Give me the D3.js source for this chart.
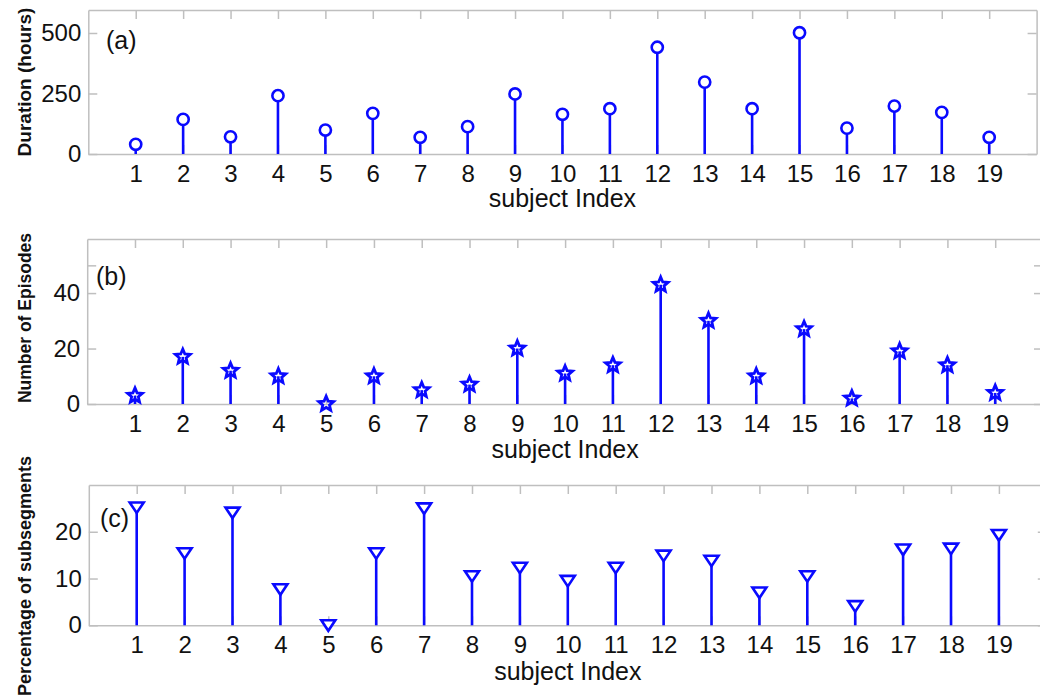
<!DOCTYPE html>
<html>
<head>
<meta charset="utf-8">
<script src="https://cdn.jsdelivr.net/npm/d3@7"></script>
<style>
  body { margin: 0; background: #fff; }
  svg { display: block; font-family: "Liberation Sans", Arial, sans-serif; }
  .axis .domain, .axis .tick line { stroke: #bfbfbf; stroke-width: 1.5; }
  .axis text { fill: #111; font-size: 24px; font-family: "Liberation Sans", Arial, sans-serif; }
</style>
</head>
<body>
<svg id="drawing_region"></svg>
<script>
const subjects = [1, 2, 3, 4, 5, 6, 7, 8, 9, 10, 11, 12, 13, 14, 15, 16, 17, 18, 19];

const durationHours = [40, 143, 71, 241, 99, 168, 69, 113, 248, 164, 187, 441, 297, 187, 501, 107, 198, 172, 69];
const episodeCounts = [3, 17, 12, 10, 0, 10, 5, 7, 20, 11, 14, 43, 30, 10, 27, 2, 19, 14, 4];
const subsegmentPct = [25.2, 15.4, 24.1, 7.7, 0, 15.4, 25.0, 10.5, 12.3, 9.5, 12.3, 14.9, 13.8, 7.0, 10.5, 4.1, 16.2, 16.4, 19.3];

const durationTicks = [0, 250, 500];
const durationTickLabels = ['0', '250', '500'];
const episodeTicks = [0, 20, 40, 50];
const episodeTickLabels = ['0', '20', '40', ''];
const percentTicks = [0, 10, 20];
const percentTickLabels = ['0', '10', '20'];

const svg = d3.select('#drawing_region')
    .attr('width', 1040)
    .attr('height', 700);

class StemPlot {

    constructor( config, xs, ys ) {
        this.config = config;
        this.xs = xs;
        this.ys = ys;
        this.init();
    }

    init() {
        let self = this;
        const c = self.config;

        self.chart = svg.append('g');

        self.x_scale = d3.scaleLinear()
            .domain( [0, 20] )
            .range( [c.left, c.right] );

        self.y_scale = d3.scaleLinear()
            .domain( [0, c.ymax] )
            .range( [c.bottom, c.top] );
    }

    render() {
        let self = this;
        const c = self.config;
        const x = self.x_scale, y = self.y_scale;

        self.chart.append('g').attr('class', 'axis')
            .attr('transform', `translate(0, ${c.top})`)
            .call( d3.axisTop(x).tickValues(subjects).tickSize(-9).tickSizeOuter(0).tickFormat('') );

        self.chart.append('g').attr('class', 'axis')
            .attr('transform', `translate(${c.right}, 0)`)
            .call( d3.axisRight(y).tickValues(c.ticks).tickSize(-9).tickSizeOuter(0).tickFormat('') );

        self.chart.append('g').attr('class', 'axis')
            .attr('transform', `translate(${c.left}, 0)`)
            .call( d3.axisLeft(y).tickValues(c.ticks).tickSize(-9).tickSizeOuter(0).tickPadding(7)
                .tickFormat( (d, i) => c.tickLabels[i] ) );

        self.chart.append('g').attr('class', 'axis')
            .attr('transform', `translate(0, ${c.bottom})`)
            .call( d3.axisBottom(x).tickValues(subjects).tickSize(-9).tickSizeOuter(0).tickPadding(11) );

        const pts = self.xs.map( (s, i) => ({ s: s, v: self.ys[i] }) );

        self.chart.selectAll('line.stem')
            .data(pts)
            .enter()
            .append('line')
            .attr('class', 'stem')
            .attr('x1', d => x(d.s) )
            .attr('x2', d => x(d.s) )
            .attr('y1', y(0) )
            .attr('y2', d => y(d.v) )
            .attr('stroke', '#0a0aff')
            .attr('stroke-width', 2.6);

        const marks = self.chart.selectAll('path.mark')
            .data(pts)
            .enter()
            .append('path')
            .attr('class', 'mark')
            .attr('transform', d => `translate(${x(d.s)}, ${y(d.v)})`)
            .attr('stroke', '#0a0aff');

        if ( c.marker === 'circle' ) {
            marks.attr('d', d3.arc()({innerRadius: 0, outerRadius: 5.6, startAngle: 0, endAngle: 2 * Math.PI}))
                .attr('fill', '#fff').attr('stroke-width', 2.6);
        } else if ( c.marker === 'star' ) {
            marks.attr('d', starPath(7.8, 0.45)).attr('fill', 'none').attr('stroke-width', 2.8);
        } else {
            marks.attr('d', 'M-7,-5L7,-5L0,5.5Z').attr('fill', '#fff').attr('stroke-width', 2.6);
        }

        self.chart.append('text')
            .attr('x', c.panelLabelX)
            .attr('y', c.panelLabelY)
            .attr('font-size', 25)
            .attr('fill', '#111')
            .text(c.panelLabel);

        self.chart.append('text')
            .attr('x', (c.left + c.right) / 2)
            .attr('y', c.xlabelY)
            .attr('text-anchor', 'middle')
            .attr('font-size', 25)
            .attr('fill', '#111')
            .text('subject Index');

        self.chart.append('text')
            .attr('transform', `translate(31, ${c.ylabelY}) rotate(-90)`)
            .attr('text-anchor', 'middle')
            .attr('font-size', c.ylabelSize)
            .attr('font-weight', 'bold')
            .attr('fill', '#111')
            .text(c.ylabel);
    }
}

function starPath( R, k ) {
    let p = [];
    for ( let i = 0; i < 10; i++ ) {
        const r = i % 2 === 0 ? R : R * k;
        const a = -Math.PI / 2 + i * Math.PI / 5;
        p.push( [r * Math.cos(a), r * Math.sin(a)] );
    }
    return 'M' + p.map( q => q.join(',') ).join('L') + 'Z';
}

const panels = [
    { cfg: { left: 88.3, right: 1036.6, top: 10, bottom: 154, ymax: 595,
             ticks: durationTicks, tickLabels: durationTickLabels, marker: 'circle',
             panelLabel: '(a)', panelLabelX: 106, panelLabelY: 49, xlabelY: 207,
             ylabel: 'Duration (hours)', ylabelY: 82, ylabelSize: 19 }, ys: durationHours },
    { cfg: { left: 87.2, right: 1043, top: 239, bottom: 404, ymax: 59.5,
             ticks: episodeTicks, tickLabels: episodeTickLabels, marker: 'star',
             panelLabel: '(b)', panelLabelX: 96, panelLabelY: 285, xlabelY: 458,
             ylabel: 'Number of Episodes', ylabelY: 318, ylabelSize: 17.5 }, ys: episodeCounts },
    { cfg: { left: 88.8, right: 1046.8, top: 485, bottom: 625.3, ymax: 30,
             ticks: percentTicks, tickLabels: percentTickLabels, marker: 'triangle',
             panelLabel: '(c)', panelLabelX: 100, panelLabelY: 527, xlabelY: 680,
             ylabel: 'Percentage of subsegments', ylabelY: 576, ylabelSize: 18 }, ys: subsegmentPct }
];

panels.forEach( p => {
    const plot = new StemPlot( p.cfg, subjects, p.ys );
    plot.render();
});
</script>
</body>
</html>
